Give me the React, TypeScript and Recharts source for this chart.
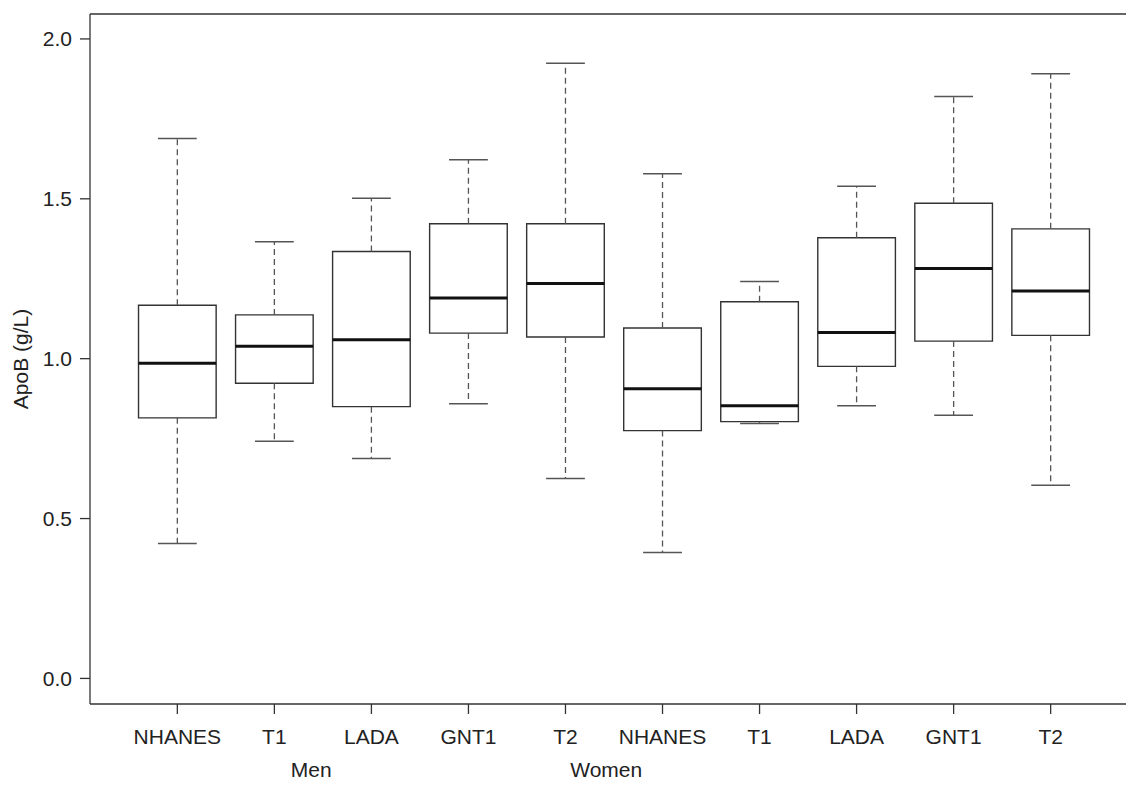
import React from "react";
import { ComposedChart, XAxis, YAxis, Line, ReferenceArea, ReferenceLine } from "recharts";

const categories = ["NHANES", "T1", "LADA", "GNT1", "T2", "NHANES", "T1", "LADA", "GNT1", "T2"];
const positions = [1, 2, 3, 4, 5, 6, 7, 8, 9, 10];
const whiskerLow = [0.422, 0.742, 0.688, 0.859, 0.625, 0.394, 0.797, 0.853, 0.823, 0.604];
const q1 = [0.815, 0.923, 0.85, 1.08, 1.068, 0.775, 0.803, 0.976, 1.055, 1.073];
const median = [0.986, 1.039, 1.059, 1.19, 1.235, 0.906, 0.853, 1.082, 1.282, 1.212];
const q3 = [1.167, 1.137, 1.335, 1.422, 1.422, 1.096, 1.178, 1.378, 1.486, 1.406];
const whiskerHigh = [1.689, 1.366, 1.502, 1.622, 1.924, 1.578, 1.241, 1.539, 1.82, 1.891];

const groupLabels = ["Men", "Women"];
const groupPositions = [2.38, 5.42];

const yTicks = [0, 0.5, 1, 1.5, 2];
const xDomain: [number, number] = [0.1, 10.9];
const yDomain: [number, number] = [-0.08, 2.078];

const BOX_HALF = 0.4;
const CAP_HALF = 0.2;

const rows = positions.map((p, i) => ({ x: p, median: median[i] }));

const TEXT = "#222";
const LINE = "#333";
const WHISK = "#555";

const YLabel = (props: any) => {
  const vb = props.viewBox || { x: 0, y: 14, width: 90, height: 690 };
  const cx = vb.x + 28;
  const cy = vb.y + vb.height / 2;
  return (
    <text x={cx} y={cy} transform={`rotate(-90 ${cx} ${cy})`} textAnchor="middle" fill={TEXT} fontSize={21}>
      ApoB (g/L)
    </text>
  );
};

const makeGroupLabel = (text: string) => (props: any) => {
  const vb = props.viewBox || { x: 0, y: 0, width: 0, height: 0 };
  const x = vb.x + (vb.width || 0) / 2;
  const y = vb.y + (vb.height || 0) + 73;
  return (
    <text x={x} y={y} textAnchor="middle" fill={TEXT} fontSize={21}>
      {text}
    </text>
  );
};

export default function App() {
  return (
    <div
      style={{
        position: "fixed",
        left: 0,
        top: 0,
        width: 1126,
        height: 785,
        overflow: "hidden",
        background: "#fff",
        fontFamily: "'Liberation Sans', Arial, Helvetica, sans-serif",
      }}
    >
      <ComposedChart
        width={1300}
        height={785}
        data={rows}
        margin={{ top: 0, right: 162, bottom: 0, left: 0 }}
        accessibilityLayer={false}
      >
        <XAxis
          dataKey="x"
          type="number"
          domain={xDomain}
          ticks={positions}
          interval={0}
          allowDataOverflow
          tickFormatter={(v: number) => categories[Math.round(v) - 1]}
          height={81}
          tickSize={10}
          tickMargin={15}
          axisLine={{ stroke: LINE, strokeWidth: 1.3 }}
          tickLine={{ stroke: LINE, strokeWidth: 1.3 }}
          tick={{ fill: TEXT, fontSize: 21 }}
        />
        <XAxis
          xAxisId="top"
          orientation="top"
          type="number"
          domain={xDomain}
          allowDataOverflow
          ticks={[]}
          height={14}
          tick={false}
          tickLine={false}
          axisLine={{ stroke: LINE, strokeWidth: 1.3 }}
        />
        <YAxis
          type="number"
          domain={yDomain}
          ticks={yTicks}
          interval={0}
          allowDataOverflow
          tickFormatter={(v: number) => v.toFixed(1)}
          width={90}
          tickSize={10}
          tickMargin={8}
          axisLine={{ stroke: LINE, strokeWidth: 1.3 }}
          tickLine={{ stroke: LINE, strokeWidth: 1.3 }}
          tick={{ fill: TEXT, fontSize: 21 }}
          label={<YLabel />}
        />
        {groupPositions.map((g, i) => (
          <ReferenceLine
            key={`g${i}`}
            segment={[
              { x: g, y: yDomain[0] },
              { x: g, y: yDomain[0] },
            ]}
            stroke="none"
            ifOverflow="visible"
            label={makeGroupLabel(groupLabels[i])}
          />
        ))}
        {positions.map((p, i) => (
          <ReferenceLine
            key={`wu${i}`}
            segment={[
              { x: p, y: q3[i] },
              { x: p, y: whiskerHigh[i] },
            ]}
            stroke={WHISK}
            strokeWidth={1.3}
            strokeDasharray="6 4"
          />
        ))}
        {positions.map((p, i) => (
          <ReferenceLine
            key={`wl${i}`}
            segment={[
              { x: p, y: q1[i] },
              { x: p, y: whiskerLow[i] },
            ]}
            stroke={WHISK}
            strokeWidth={1.3}
            strokeDasharray="6 4"
          />
        ))}
        {positions.map((p, i) => (
          <ReferenceLine
            key={`cu${i}`}
            segment={[
              { x: p - CAP_HALF, y: whiskerHigh[i] },
              { x: p + CAP_HALF, y: whiskerHigh[i] },
            ]}
            stroke={WHISK}
            strokeWidth={1.5}
          />
        ))}
        {positions.map((p, i) => (
          <ReferenceLine
            key={`cl${i}`}
            segment={[
              { x: p - CAP_HALF, y: whiskerLow[i] },
              { x: p + CAP_HALF, y: whiskerLow[i] },
            ]}
            stroke={WHISK}
            strokeWidth={1.5}
          />
        ))}
        {positions.map((p, i) => (
          <ReferenceArea
            key={`b${i}`}
            x1={p - BOX_HALF}
            x2={p + BOX_HALF}
            y1={q1[i]}
            y2={q3[i]}
            fill="#fff"
            fillOpacity={1}
            stroke={LINE}
            strokeWidth={1.4}
          />
        ))}
        {positions.map((p, i) => (
          <ReferenceLine
            key={`m${i}`}
            segment={[
              { x: p - BOX_HALF, y: median[i] },
              { x: p + BOX_HALF, y: median[i] },
            ]}
            stroke="#111"
            strokeWidth={3}
          />
        ))}
        <Line dataKey="median" stroke="none" dot={false} activeDot={false} isAnimationActive={false} />
      </ComposedChart>
    </div>
  );
}
